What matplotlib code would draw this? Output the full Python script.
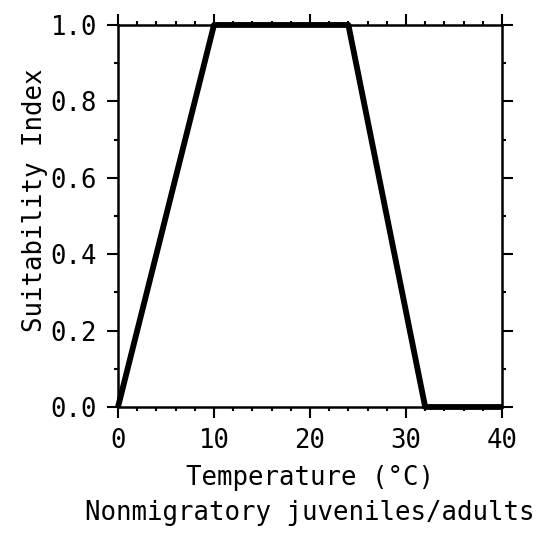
import matplotlib
matplotlib.use("Agg")
import matplotlib.pyplot as plt
from matplotlib.ticker import MultipleLocator

temperature = [0, 10, 24, 32, 40]
suitability = [0.0, 1.0, 1.0, 0.0, 0.0]
x_ticks = [0, 10, 20, 30, 40]
y_ticks = [0.0, 0.2, 0.4, 0.6, 0.8, 1.0]

plt.rcParams['font.family'] = ['DejaVu Sans Mono']
fig = plt.figure(figsize=(5.54, 5.37), dpi=100)
ax = fig.add_axes([0.2130, 0.2421, 0.6931, 0.7114])
ax.plot(temperature, suitability, color='black', lw=4.2, solid_capstyle='butt', clip_on=False)
ax.set_xlim(0, 40)
ax.set_ylim(0, 1)
ax.set_xticks(x_ticks)
ax.set_yticks(y_ticks)
ax.set_xticklabels([str(v) for v in x_ticks])
ax.set_yticklabels([f"{v:.1f}" for v in y_ticks])
ax.xaxis.set_minor_locator(MultipleLocator(2))
ax.yaxis.set_minor_locator(MultipleLocator(0.1))
ax.tick_params(which='both', direction='out', top=True, right=True, labelsize=18.5, width=1.5)
ax.tick_params(which='major', length=8)
ax.tick_params(which='minor', length=3)
ax.tick_params(axis='x', pad=7)
ax.tick_params(axis='y', pad=7)
for s in ax.spines.values():
    s.set_linewidth(1.8)
ax.set_ylabel('Suitability Index', fontsize=18.5, labelpad=2)
ax.yaxis.label.set_y(0.54)
ax.set_xlabel('Temperature (°C)\nNonmigratory juveniles/adults', fontsize=18.5, labelpad=8, linespacing=1.45)
fig.savefig('out.png', dpi=100)
